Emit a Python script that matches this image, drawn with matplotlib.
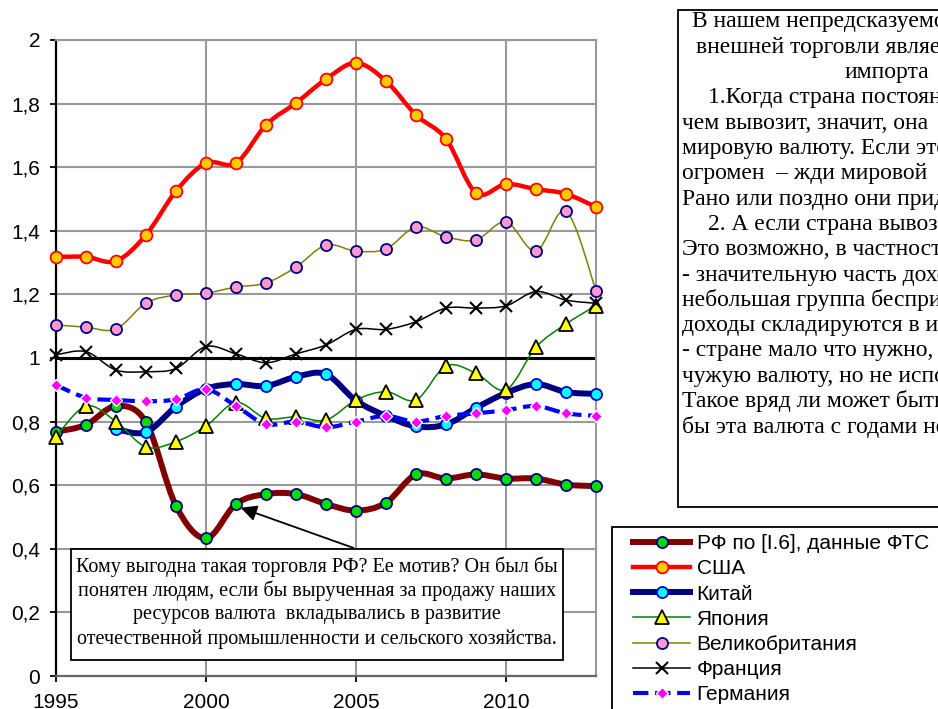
import numpy as np
import matplotlib
matplotlib.use('Agg')
import matplotlib.pyplot as plt
from matplotlib.path import Path
from matplotlib.patches import PathPatch, Rectangle
from matplotlib.lines import Line2D

# данные (отношение импорт/экспорт по годам)
years = list(range(1995, 2014))
rf = [0.768, 0.79, 0.849, 0.798, 0.535, 0.433, 0.541, 0.572, 0.572, 0.541,
      0.52, 0.545, 0.634, 0.621, 0.634, 0.621, 0.621, 0.602, 0.597]
usa = [1.318, 1.318, 1.305, 1.387, 1.525, 1.613, 1.613, 1.733, 1.802, 1.877,
       1.928, 1.871, 1.764, 1.689, 1.519, 1.547, 1.531, 1.516, 1.475]
china = [np.nan, np.nan, 0.776, 0.767, 0.847, 0.903, 0.918, 0.912, 0.941, 0.949,
         0.866, 0.818, 0.785, 0.791, 0.843, 0.89, 0.918, 0.893, 0.887]
japan = [0.752, 0.849, 0.80, 0.72, 0.737, 0.786, 0.86, 0.81, 0.815, 0.805,
         0.868, 0.894, 0.868, 0.975, 0.952, 0.90, 1.034, 1.107, 1.165]
uk = [1.104, 1.097, 1.091, 1.173, 1.198, 1.204, 1.223, 1.236, 1.286, 1.355,
      1.336, 1.343, 1.412, 1.381, 1.371, 1.428, 1.336, 1.462, 1.212]
france = [1.01, 1.02, 0.962, 0.957, 0.967, 1.036, 1.013, 0.985, 1.013, 1.041,
          1.09, 1.09, 1.114, 1.157, 1.157, 1.164, 1.209, 1.182, 1.172]
germany = [0.915, 0.875, 0.868, 0.864, 0.87, 0.902, 0.849, 0.792, 0.80, 0.782,
           0.80, 0.818, 0.80, 0.818, 0.826, 0.836, 0.849, 0.826, 0.818]

labels = ['РФ по [I.6], данные ФТС', 'США', 'Китай', 'Япония',
          'Великобритания', 'Франция', 'Германия']
yticks = [0, 0.2, 0.4, 0.6, 0.8, 1, 1.2, 1.4, 1.6, 1.8, 2]
ytick_labels = ['0', '0,2', '0,4', '0,6', '0,8', '1', '1,2', '1,4', '1,6', '1,8', '2']
xticks = [1995, 2000, 2005, 2010]

# текст правой рамки (в оригинале обрезан краем картинки)
note_right = [
    'В нашем непредсказуемом',
    'внешней торговли является',
    'импорта',
    '1.Когда страна постоянно',
    'чем вывозит, значит, она',
    'мировую валюту. Если этот',
    'огромен  – жди мировой',
    'Рано или поздно они придут',
    '2. А если страна вывозит',
    'Это возможно, в частности',
    '- значительную часть доходов',
    'небольшая группа беспринципных',
    'доходы складируются в иностранных',
    '- стране мало что нужно,',
    'чужую валюту, но не использует',
    'Такое вряд ли может быть',
    'бы эта валюта с годами не',
]
note_right_x = [692, 696, 845, 708, 682, 682, 682, 682, 708, 682,
                682, 682, 682, 682, 682, 682, 682]

note_bottom = [
    'Кому выгодна такая торговля РФ? Ее мотив? Он был бы',
    'понятен людям, если бы вырученная за продажу наших',
    'ресурсов валюта  вкладывались в развитие',
    'отечественной промышленности и сельского хозяйства.',
]

W, H = 938, 709
fig = plt.figure(figsize=(W / 100, H / 100), dpi=100)
ax = fig.add_axes([56 / W, 1 - 676 / H, 540 / W, 636 / H])


def px(x, y):
    return x / W, 1 - y / H


def smooth_path(x, y):
    # сглаженная линия, как в Excel: кривые Безье через точки ряда
    pts = np.array([(a, b) for a, b in zip(x, y) if not np.isnan(b)])
    n = len(pts)
    verts = [pts[0]]
    codes = [Path.MOVETO]
    for i in range(n - 1):
        p0 = pts[i - 1] if i > 0 else pts[i]
        p1 = pts[i]
        p2 = pts[i + 1]
        p3 = pts[i + 2] if i + 2 < n else pts[i + 1]
        verts += [p1 + (p2 - p0) / 6, p2 - (p3 - p1) / 6, p2]
        codes += [Path.CURVE4] * 3
    return Path(verts, codes)


series = [
    (rf, dict(color='#800000', lw=4.3, ls='-', marker='o', ms=8, mfc='#00dd00', mec='#000080', mew=1.3)),
    (usa, dict(color='#ff0000', lw=3.2, ls='-', marker='o', ms=8.5, mfc='#ffcc00', mec='#ff0000', mew=1.3)),
    (china, dict(color='#000080', lw=4.3, ls='-', marker='o', ms=8, mfc='#00ffff', mec='#0000cc', mew=1.3)),
    (japan, dict(color='#008000', lw=1.1, ls='-', marker='^', ms=10, mfc='#ffff00', mec='black', mew=1.3)),
    (uk, dict(color='#808000', lw=1.1, ls='-', marker='o', ms=8, mfc='#ff99cc', mec='#000080', mew=1.3)),
    (france, dict(color='black', lw=1.1, ls='-', marker='x', ms=9, mfc='black', mec='black', mew=1.5)),
    (germany, dict(color='#0000ff', lw=3.0, ls='--', marker='D', ms=6.5, mfc='#ff00ff', mec='white', mew=1.0)),
]

ax.axhline(1, color='black', lw=2.2, zorder=2)

handles = []
for k, (vals, st) in enumerate(series):
    z = 3 + k
    patch = PathPatch(smooth_path(years, vals), fill=False, edgecolor=st['color'],
                      lw=st['lw'], linestyle=st['ls'], zorder=z,
                      capstyle='round' if st['ls'] == '-' else 'butt', joinstyle='round')
    ax.add_patch(patch)
    ax.plot(years, vals, ls='none', marker=st['marker'], ms=st['ms'], mfc=st['mfc'],
            mec=st['mec'], mew=st['mew'], zorder=z + 0.5, clip_on=False)
    handles.append(Line2D([], [], color=st['color'], lw=st['lw'], ls=st['ls'],
                          marker=st['marker'], ms=st['ms'], mfc=st['mfc'],
                          mec=st['mec'], mew=st['mew']))

ax.set_xlim(1995, 2013)
ax.set_ylim(0, 2)
ax.set_yticks(yticks)
ax.set_yticklabels(ytick_labels, fontfamily='Liberation Sans', fontsize=15)
ax.set_xticks(xticks)
ax.set_xticklabels([str(t) for t in xticks], fontfamily='Liberation Sans', fontsize=15)
ax.grid(True, color='#999999', lw=1.5, zorder=0)
ax.set_axisbelow(True)
ax.tick_params(axis='y', direction='out', length=4.5, width=1.3, pad=7)
ax.tick_params(axis='x', direction='out', length=4.5, width=1.3, pad=8, colors='black')
ax.spines['left'].set_color('black')
ax.spines['left'].set_linewidth(1.6)
ax.spines['bottom'].set_color('#666666')
ax.spines['bottom'].set_linewidth(1.6)
for s in ['top', 'right']:
    ax.spines[s].set_color('#999999')
    ax.spines[s].set_linewidth(1.5)

ax.annotate('', xy=(2001.07, 0.532), xytext=(2005.0, 0.40),
            arrowprops=dict(arrowstyle='-|>', color='black', lw=1.3, mutation_scale=24),
            zorder=20)

# нижняя рамка с комментарием
x0, y0 = px(71, 660)
x1, y1 = px(563, 549)
fig.patches.append(Rectangle((x0, y0), x1 - x0, y1 - y0, transform=fig.transFigure,
                             facecolor='white', edgecolor='black', lw=1.3, zorder=5))
for i, line in enumerate(note_bottom):
    fig.text(*px(317, 567 + i * 24), line, ha='center', va='center',
             fontfamily='Liberation Serif', fontsize=14.5, zorder=6)

# правая рамка с текстом (уходит за край)
x0, y0 = px(678, 507)
x1, y1 = px(960, 10)
fig.patches.append(Rectangle((x0, y0), x1 - x0, y1 - y0, transform=fig.transFigure,
                             facecolor='white', edgecolor='black', lw=1.3, zorder=5))
for i, line in enumerate(note_right):
    fig.text(*px(note_right_x[i], 22 + i * 25.3), line, ha='left', va='center',
             fontfamily='Liberation Serif', fontsize=17, zorder=6)

# легенда
x0, y0 = px(612, 730)
x1, y1 = px(960, 527)
fig.patches.append(Rectangle((x0, y0), x1 - x0, y1 - y0, transform=fig.transFigure,
                             facecolor='white', edgecolor='black', lw=1.3, zorder=5))
leg = fig.legend(handles, labels, loc='upper left', bbox_to_anchor=px(633, 534),
                 frameon=False, numpoints=1, handlelength=2.75, handletextpad=0.3,
                 borderpad=0, borderaxespad=0, labelspacing=0.3,
                 prop={'family': 'Liberation Sans', 'size': 15})
leg.set_zorder(7)

fig.savefig('out.png', dpi=100)
